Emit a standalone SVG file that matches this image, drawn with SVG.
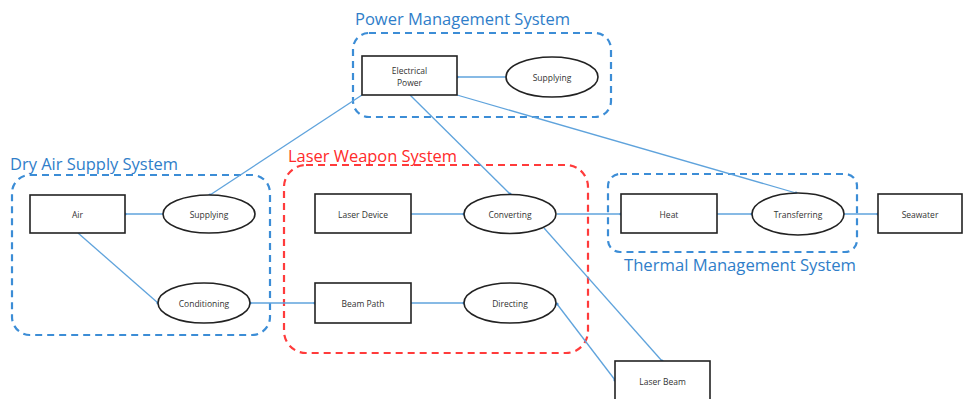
<svg xmlns="http://www.w3.org/2000/svg" width="965" height="399" viewBox="0 0 965 399">
<defs>
<style>
.grp{fill:none;stroke:#3C8DD6;stroke-width:2.2;stroke-dasharray:7,5}
.grp-red{fill:none;stroke:#FF3B3B;stroke-width:2.2;stroke-dasharray:7,5}
.title{font-family:"Open Sans","Noto Sans",sans-serif;font-size:16px;fill:#2F7EC9}
.title-red{font-family:"Open Sans","Noto Sans",sans-serif;font-size:16px;fill:#FF2A2A}
.box{fill:#fff;stroke:#222;stroke-width:1.6}
.lbl{font-family:"Open Sans","Noto Sans",sans-serif;font-size:8.5px;fill:#333;text-anchor:middle;dominant-baseline:central}
.conn{stroke:#5FA3DC;stroke-width:1.3;fill:none}
.dot{fill:#4C93D6}
</style>
</defs>
<rect width="965" height="399" fill="#fff"/>
<g id="groups">
<rect class="grp" x="353" y="33" width="258" height="84" rx="16"/>
<text class="title" x="355" y="25" textLength="215" lengthAdjust="spacingAndGlyphs">Power Management System</text>
<rect class="grp" x="12" y="175" width="258" height="160" rx="18"/>
<text class="title" x="10" y="170" textLength="168" lengthAdjust="spacingAndGlyphs">Dry Air Supply System</text>
<rect class="grp-red" x="284" y="165" width="304" height="188" rx="22"/>
<text class="title-red" x="288" y="162" textLength="169" lengthAdjust="spacingAndGlyphs">Laser Weapon System</text>
<rect class="grp" x="608" y="174" width="249" height="78" rx="12"/>
<text class="title" x="624" y="271" textLength="232" lengthAdjust="spacingAndGlyphs">Thermal Management System</text>
</g>
<g id="connectors">
<line class="conn" x1="506" y1="77" x2="457" y2="77"/>
<line class="conn" x1="163" y1="214" x2="125" y2="214"/>
<line class="conn" x1="78" y1="233" x2="158" y2="303"/>
<line class="conn" x1="210" y1="195" x2="362" y2="95"/>
<line class="conn" x1="250" y1="303" x2="315" y2="303"/>
<line class="conn" x1="411" y1="214" x2="464" y2="214"/>
<line class="conn" x1="411" y1="303" x2="464" y2="303"/>
<line class="conn" x1="410" y1="95" x2="510" y2="194"/>
<line class="conn" x1="544" y1="228" x2="662" y2="361"/>
<line class="conn" x1="557" y1="304" x2="615" y2="380"/>
<line class="conn" x1="557" y1="214" x2="621" y2="214"/>
<line class="conn" x1="717" y1="214" x2="752" y2="214"/>
<line class="conn" x1="844" y1="214" x2="878" y2="214"/>
<line class="conn" x1="457" y1="95" x2="796" y2="193"/>
<circle class="dot" cx="457" cy="77" r="1.6"/>
<circle class="dot" cx="125" cy="214" r="1.6"/>
<circle class="dot" cx="158" cy="303" r="1.6"/>
<circle class="dot" cx="210" cy="195" r="1.6"/>
<circle class="dot" cx="250" cy="303" r="1.6"/>
<circle class="dot" cx="315" cy="303" r="1.6"/>
<circle class="dot" cx="464" cy="214" r="1.6"/>
<circle class="dot" cx="464" cy="303" r="1.6"/>
<circle class="dot" cx="510" cy="194" r="1.6"/>
<circle class="dot" cx="662" cy="361" r="1.6"/>
<circle class="dot" cx="615" cy="380" r="1.6"/>
<circle class="dot" cx="557" cy="304" r="1.6"/>
<circle class="dot" cx="621" cy="214" r="1.6"/>
<circle class="dot" cx="752" cy="214" r="1.6"/>
<circle class="dot" cx="878" cy="214" r="1.6"/>
<circle class="dot" cx="796" cy="193" r="1.6"/>
</g>
<g id="electrical-power">
<rect class="box" x="362" y="56" width="95" height="39"/>
<text class="lbl" x="409.5" y="70">Electrical</text>
<text class="lbl" x="409.5" y="82">Power</text>
</g>
<g id="supplying-power">
<ellipse class="box" cx="552" cy="77" rx="46" ry="20"/>
<text class="lbl" x="552" y="77">Supplying</text>
</g>
<g id="air">
<rect class="box" x="30" y="195" width="95" height="38"/>
<text class="lbl" x="77.5" y="214">Air</text>
</g>
<g id="supplying-air">
<ellipse class="box" cx="209" cy="214" rx="46" ry="19"/>
<text class="lbl" x="209" y="214">Supplying</text>
</g>
<g id="conditioning">
<ellipse class="box" cx="204" cy="303" rx="46" ry="20"/>
<text class="lbl" x="204" y="303">Conditioning</text>
</g>
<g id="laser-device">
<rect class="box" x="315" y="194" width="96" height="39"/>
<text class="lbl" x="363" y="214">Laser Device</text>
</g>
<g id="converting">
<ellipse class="box" cx="510" cy="214" rx="46" ry="19.5"/>
<text class="lbl" x="510" y="214">Converting</text>
</g>
<g id="beam-path">
<rect class="box" x="315" y="283" width="96" height="40"/>
<text class="lbl" x="363" y="303">Beam Path</text>
</g>
<g id="directing">
<ellipse class="box" cx="510" cy="303" rx="46" ry="20"/>
<text class="lbl" x="510" y="303">Directing</text>
</g>
<g id="heat">
<rect class="box" x="621" y="194" width="96" height="39"/>
<text class="lbl" x="669" y="214">Heat</text>
</g>
<g id="transferring">
<ellipse class="box" cx="798" cy="214" rx="46" ry="21"/>
<text class="lbl" x="798" y="214">Transferring</text>
</g>
<g id="seawater">
<rect class="box" x="878" y="194" width="84" height="39"/>
<text class="lbl" x="920" y="214">Seawater</text>
</g>
<g id="laser-beam">
<rect class="box" x="615" y="361" width="95" height="42"/>
<text class="lbl" x="662.5" y="381">Laser Beam</text>
</g>
</svg>
